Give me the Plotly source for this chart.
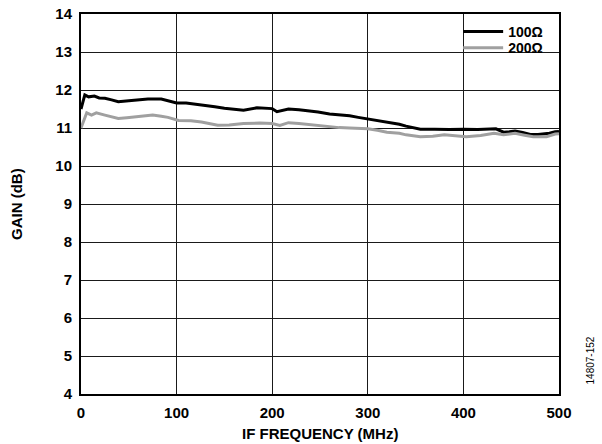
import plotly.graph_objects as go

freq_100 = [0, 4, 8, 14, 19, 25, 32, 39, 50, 60, 70, 84, 92, 100, 110, 120, 130, 140, 150, 160, 170, 184, 192, 200, 205, 210, 217, 228, 236, 248, 260, 270, 281, 290, 300, 310, 320, 333, 340, 349, 355, 370, 385, 400, 415, 434, 442, 448, 454, 462, 470, 478, 484, 490, 496, 500]
gain_100 = [11.5, 11.87, 11.82, 11.84, 11.79, 11.78, 11.74, 11.69, 11.72, 11.74, 11.76, 11.76, 11.72, 11.66, 11.66, 11.63, 11.6, 11.56, 11.52, 11.49, 11.47, 11.53, 11.52, 11.51, 11.43, 11.46, 11.5, 11.48, 11.46, 11.42, 11.37, 11.35, 11.32, 11.28, 11.24, 11.2, 11.17, 11.1, 11.05, 11.0, 10.97, 10.97, 10.96, 10.97, 10.96, 10.98, 10.89, 10.9, 10.92, 10.88, 10.83, 10.83, 10.84, 10.86, 10.9, 10.91]

freq_200 = [0, 6, 11, 16, 25, 32, 39, 48, 56, 66, 75, 84, 91, 102, 115, 126, 135, 143, 155, 170, 187, 200, 208, 217, 228, 236, 248, 260, 270, 281, 300, 310, 320, 333, 340, 355, 368, 380, 392, 403, 418, 432, 442, 454, 464, 473, 487, 496, 500]
gain_200 = [11.0, 11.4, 11.34, 11.4, 11.34, 11.3, 11.25, 11.27, 11.29, 11.31, 11.34, 11.31, 11.28, 11.2, 11.19, 11.16, 11.12, 11.07, 11.08, 11.12, 11.13, 11.12, 11.07, 11.14, 11.12, 11.1, 11.06, 11.03, 11.01, 11.0, 10.98, 10.94, 10.89, 10.86, 10.82, 10.77, 10.78, 10.82, 10.8, 10.77, 10.8, 10.86, 10.82, 10.86, 10.81, 10.77, 10.77, 10.84, 10.85]

series_names = ["100Ω", "200Ω"]
series_colors = ["#000000", "#a0a0a0"]

x_ticks = [0, 100, 200, 300, 400, 500]
y_ticks = [4, 5, 6, 7, 8, 9, 10, 11, 12, 13, 14]

x_title = "IF FREQUENCY (MHz)"
y_title = "GAIN (dB)"
fig_id = "14807-152"

FONT = "Arial, Liberation Sans, sans-serif"
FS = 15
legend_font = dict(family=FONT, size=14, color="black", weight="bold")

fig = go.Figure()
fig.add_trace(go.Scatter(x=freq_100, y=gain_100, mode="lines", name=series_names[0],
                         line=dict(color=series_colors[0], width=3), legend="legend"))
fig.add_trace(go.Scatter(x=freq_200, y=gain_200, mode="lines", name=series_names[1],
                         line=dict(color=series_colors[1], width=3), legend="legend2"))

fig.update_layout(
    width=602, height=444,
    margin=dict(l=81, r=43, t=14, b=50, autoexpand=False),
    paper_bgcolor="white", plot_bgcolor="white",
    font=dict(family=FONT, size=FS, color="black"),
    legend=dict(x=0.789, y=0.995, xanchor="left", yanchor="top",
                bgcolor="rgba(0,0,0,0)", borderwidth=0,
                font=legend_font, itemwidth=40),
    legend2=dict(x=0.789, y=0.952, xanchor="left", yanchor="top",
                 bgcolor="rgba(0,0,0,0)", borderwidth=0,
                 font=legend_font, itemwidth=40),
    showlegend=True,
)
# white area behind the legend, hiding the gridlines there
fig.add_shape(type="rect", xref="paper", yref="paper",
              x0=0.776, x1=0.998, y0=0.858, y1=0.997,
              fillcolor="white", line=dict(width=0), layer="between")

fig.update_xaxes(
    range=[0, 500], tickvals=x_ticks, ticktext=[str(v) for v in x_ticks],
    showgrid=True, gridcolor="#1a1a1a", gridwidth=1,
    showline=True, linecolor="black", linewidth=2, mirror=True,
    ticks="", zeroline=False, automargin=False, ticklabelstandoff=4,
    tickfont=dict(family=FONT, size=FS, color="black", weight="bold"),
)
fig.update_yaxes(
    range=[4, 14], tickvals=y_ticks, ticktext=[str(v) for v in y_ticks],
    showgrid=True, gridcolor="#1a1a1a", gridwidth=1,
    showline=True, linecolor="black", linewidth=2, mirror=True,
    ticks="", zeroline=False, automargin=False, ticklabelstandoff=4,
    tickfont=dict(family=FONT, size=FS, color="black", weight="bold"),
)
fig.add_annotation(text=x_title, xref="paper", yref="paper",
                   x=0.5, y=-0.103, xanchor="center", yanchor="middle",
                   showarrow=False,
                   font=dict(family=FONT, size=FS, color="black", weight="bold"))
fig.add_annotation(text=y_title, xref="paper", yref="paper",
                   x=-0.136, y=0.5, xanchor="center", yanchor="middle",
                   textangle=-90, showarrow=False,
                   font=dict(family=FONT, size=FS, color="black", weight="bold"))
fig.add_annotation(text=fig_id, xref="paper", yref="paper",
                   x=1.065, y=0.02, xanchor="center", yanchor="bottom",
                   textangle=-90, showarrow=False,
                   font=dict(family=FONT, size=10, color="black"))

fig.write_html("out.html", config={"displayModeBar": False},
               post_script="document.body.style.margin='0';document.body.style.padding='0';")
